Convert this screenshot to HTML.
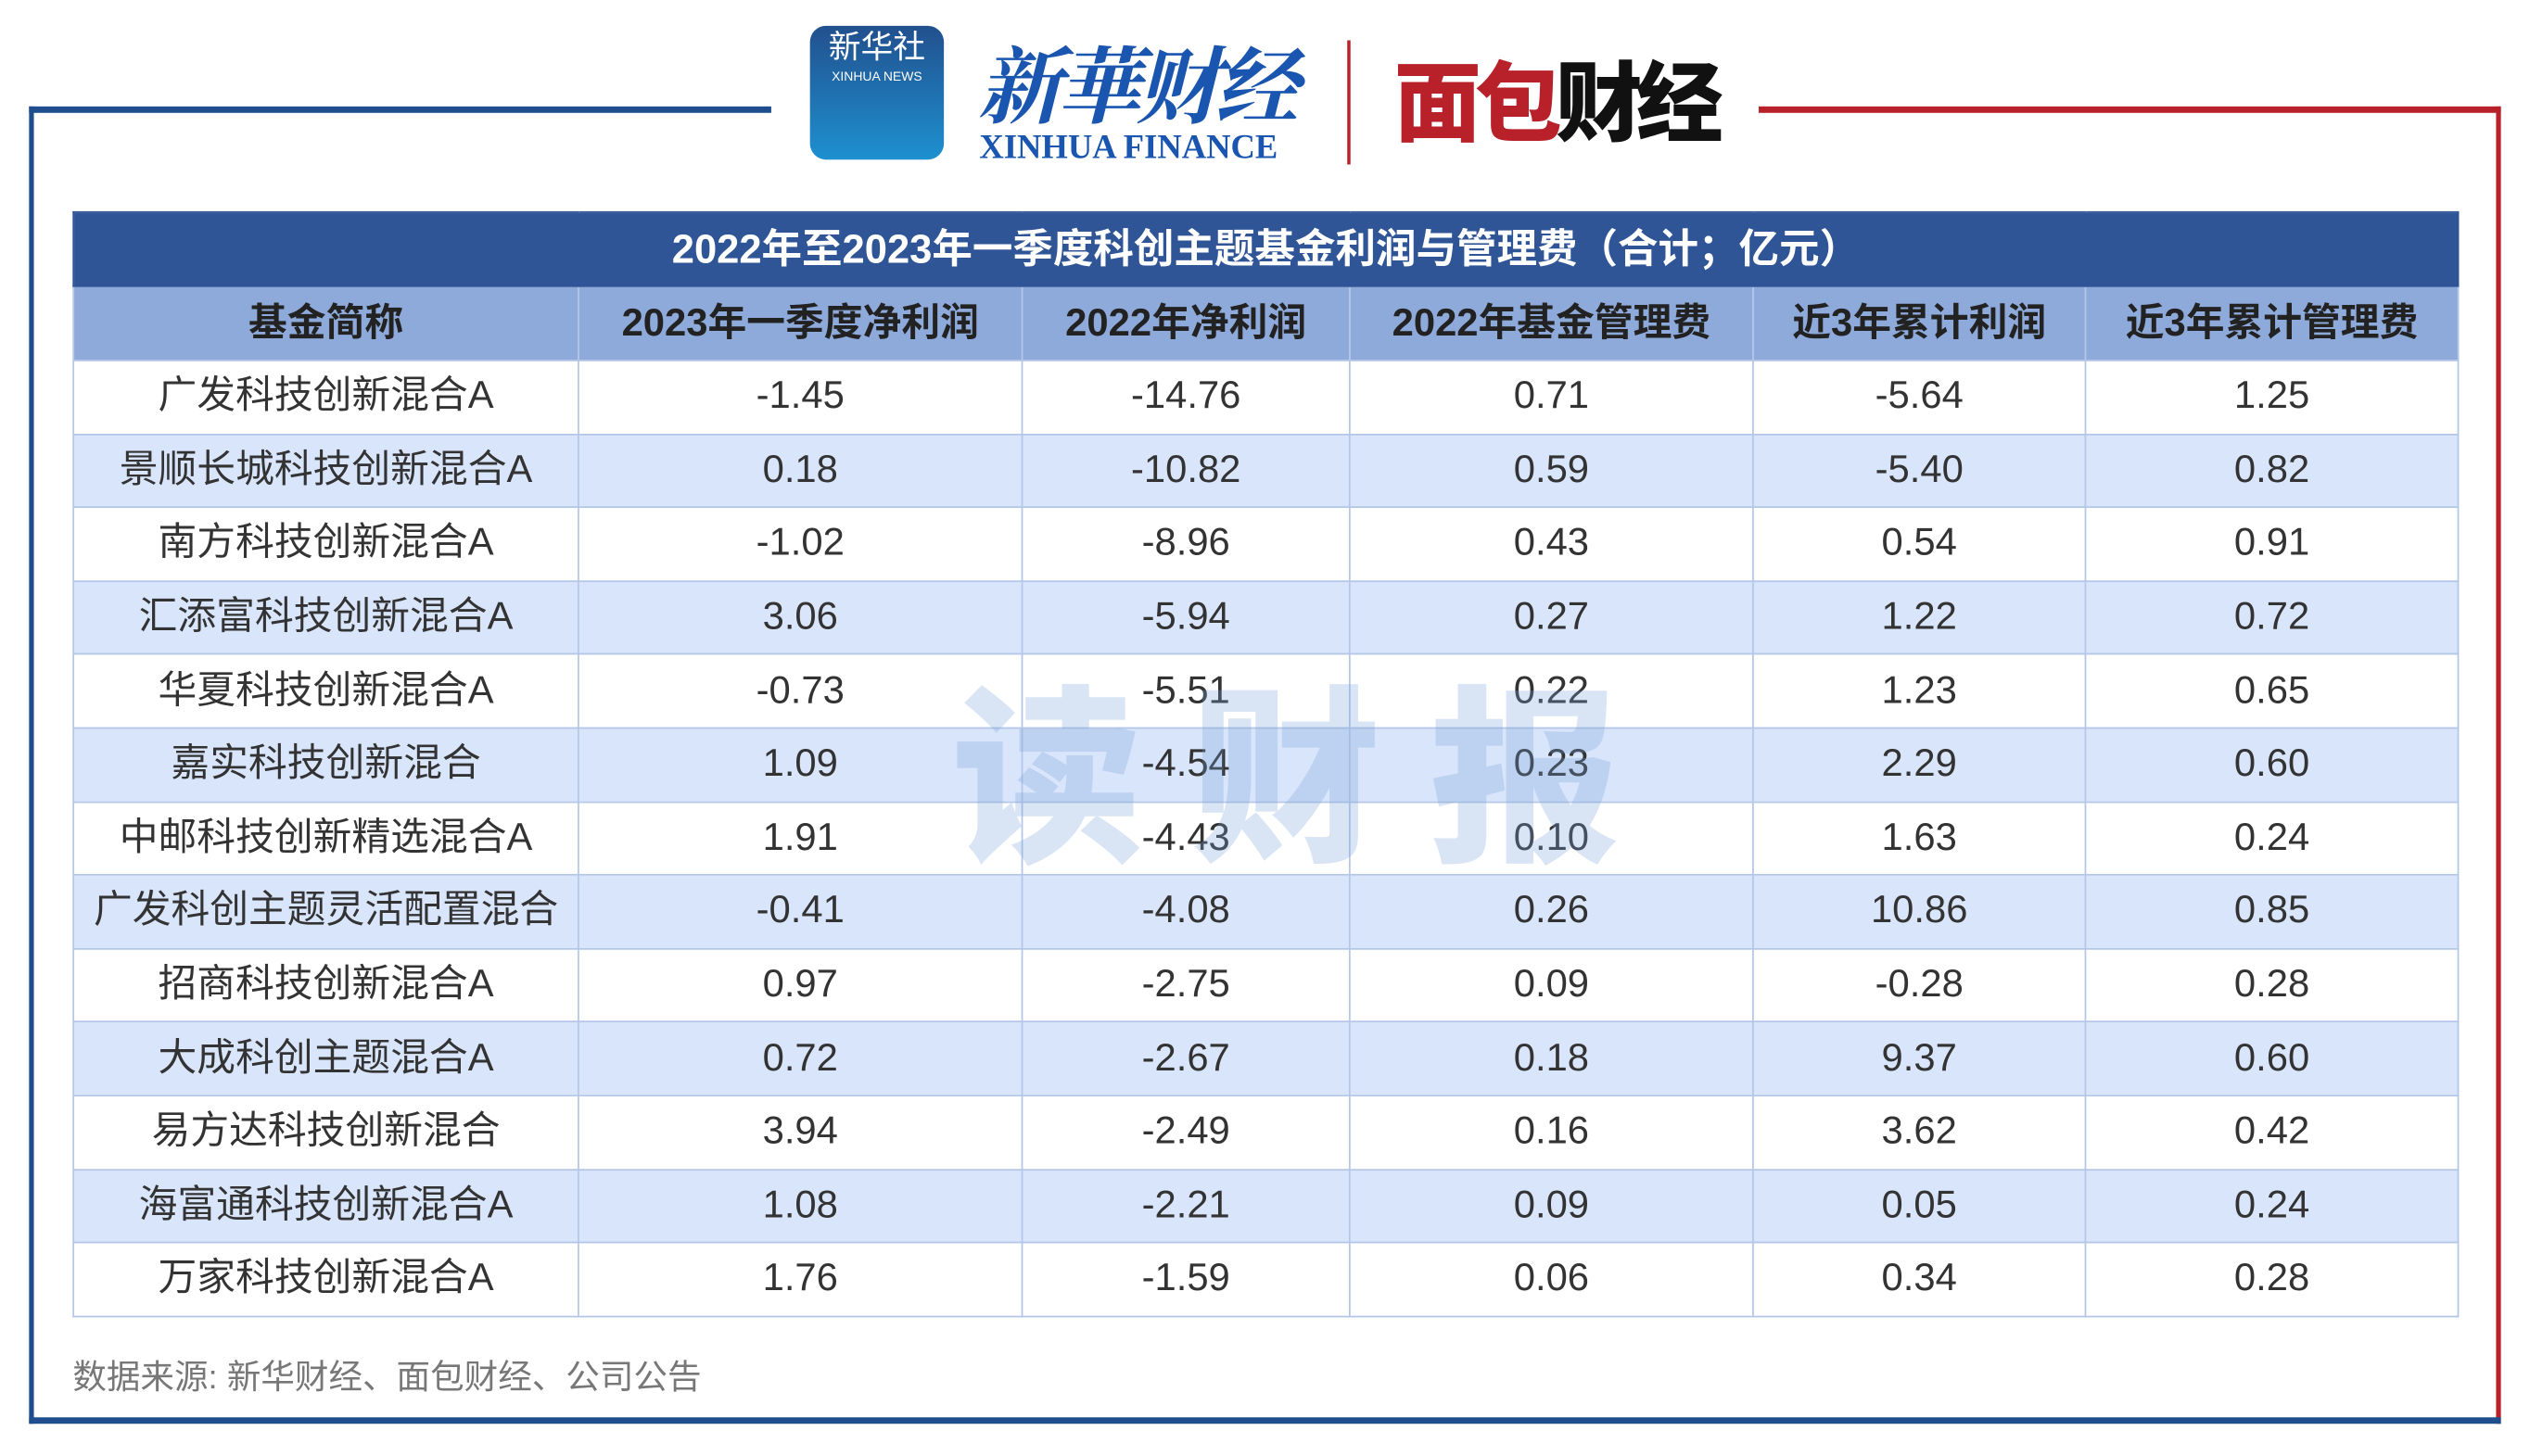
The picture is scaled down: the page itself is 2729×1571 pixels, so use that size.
<!DOCTYPE html>
<html><head><meta charset="utf-8"><style>
html,body{margin:0;padding:0;background:#fff;width:2729px;height:1571px;overflow:hidden}
#w{position:absolute;left:0;top:0;width:1568px;height:903px;transform:scale(1.7404,1.7398);transform-origin:0 0;font-family:"Liberation Sans","Noto Sans CJK SC",sans-serif}
.a{position:absolute}
table{position:absolute;left:45px;top:131px;width:1478px;border-collapse:collapse;table-layout:fixed}
td{border:1.5px solid #b4c6e7;text-align:center;font-size:24px;color:#333;height:44.6px;padding:0;line-height:40px}
tr.h td{background:#8eaadb;font-weight:bold;color:#222;height:45px}
tr.t td{background:#2f5597;color:#fff;font-weight:bold;height:45px;border-color:#2f5597;font-size:25px}
tr.z td{background:#d9e5fb}
</style></head><body><div id="w">
<div class="a" style="left:18px;top:66px;width:460px;height:4px;background:#1f4e8f"></div>
<div class="a" style="left:1090px;top:66px;width:460px;height:4px;background:#b8202a"></div>
<div class="a" style="left:18px;top:66px;width:3px;height:817px;background:#1f4e8f"></div>
<div class="a" style="left:1547px;top:66px;width:3px;height:817px;background:#b8202a"></div>
<div class="a" style="left:18px;top:879px;width:1532px;height:4px;background:#1f4e8f"></div>
<div class="a" style="left:502px;top:16px;width:83px;height:83px;border-radius:10px;background:linear-gradient(#22508e,#1e90d0);color:#fff;text-align:center;font-size:20px;line-height:28px">新华社<div style="font-size:8px;line-height:8px">XINHUA NEWS</div></div>
<div class="a" style="left:606px;top:12px;font-size:52px;color:#1a56b0;font-style:italic;font-weight:bold;font-family:'Noto Serif CJK SC',serif;letter-spacing:-3px">新華财经</div>
<div class="a" style="left:607px;top:79px;font-size:21px;color:#1a56b0;font-family:'Liberation Serif',serif;font-weight:bold">XINHUA FINANCE</div>
<div class="a" style="left:835px;top:25px;width:2px;height:77px;background:#b8202a"></div>
<div class="a" style="left:864px;top:20px;font-size:54px;font-weight:900;letter-spacing:-4px"><span style="color:#b8202a">面包</span><span style="color:#111">财经</span></div>
<table>
<colgroup><col style="width:313px"><col style="width:275px"><col style="width:203px"><col style="width:250px"><col style="width:206px"><col style="width:231px"></colgroup>
<tr class="t"><td colspan="6">2022年至2023年一季度科创主题基金利润与管理费（合计；亿元）</td></tr>
<tr class="h"><td>基金简称</td><td>2023年一季度净利润</td><td>2022年净利润</td><td>2022年基金管理费</td><td>近3年累计利润</td><td>近3年累计管理费</td></tr>
<tr><td>广发科技创新混合A</td><td>-1.45</td><td>-14.76</td><td>0.71</td><td>-5.64</td><td>1.25</td></tr>
<tr class="z"><td>景顺长城科技创新混合A</td><td>0.18</td><td>-10.82</td><td>0.59</td><td>-5.40</td><td>0.82</td></tr>
<tr><td>南方科技创新混合A</td><td>-1.02</td><td>-8.96</td><td>0.43</td><td>0.54</td><td>0.91</td></tr>
<tr class="z"><td>汇添富科技创新混合A</td><td>3.06</td><td>-5.94</td><td>0.27</td><td>1.22</td><td>0.72</td></tr>
<tr><td>华夏科技创新混合A</td><td>-0.73</td><td>-5.51</td><td>0.22</td><td>1.23</td><td>0.65</td></tr>
<tr class="z"><td>嘉实科技创新混合</td><td>1.09</td><td>-4.54</td><td>0.23</td><td>2.29</td><td>0.60</td></tr>
<tr><td>中邮科技创新精选混合A</td><td>1.91</td><td>-4.43</td><td>0.10</td><td>1.63</td><td>0.24</td></tr>
<tr class="z"><td>广发科创主题灵活配置混合</td><td>-0.41</td><td>-4.08</td><td>0.26</td><td>10.86</td><td>0.85</td></tr>
<tr><td>招商科技创新混合A</td><td>0.97</td><td>-2.75</td><td>0.09</td><td>-0.28</td><td>0.28</td></tr>
<tr class="z"><td>大成科创主题混合A</td><td>0.72</td><td>-2.67</td><td>0.18</td><td>9.37</td><td>0.60</td></tr>
<tr><td>易方达科技创新混合</td><td>3.94</td><td>-2.49</td><td>0.16</td><td>3.62</td><td>0.42</td></tr>
<tr class="z"><td>海富通科技创新混合A</td><td>1.08</td><td>-2.21</td><td>0.09</td><td>0.05</td><td>0.24</td></tr>
<tr><td>万家科技创新混合A</td><td>1.76</td><td>-1.59</td><td>0.06</td><td>0.34</td><td>0.28</td></tr>
</table>
<div class="a" style="left:590px;top:388px;font-size:118px;font-weight:900;color:rgba(120,160,215,0.28);letter-spacing:30px">读财报</div>
<div class="a" style="left:45px;top:838px;font-size:21px;color:#777">数据来源: 新华财经、面包财经、公司公告</div>
</div></body></html>
